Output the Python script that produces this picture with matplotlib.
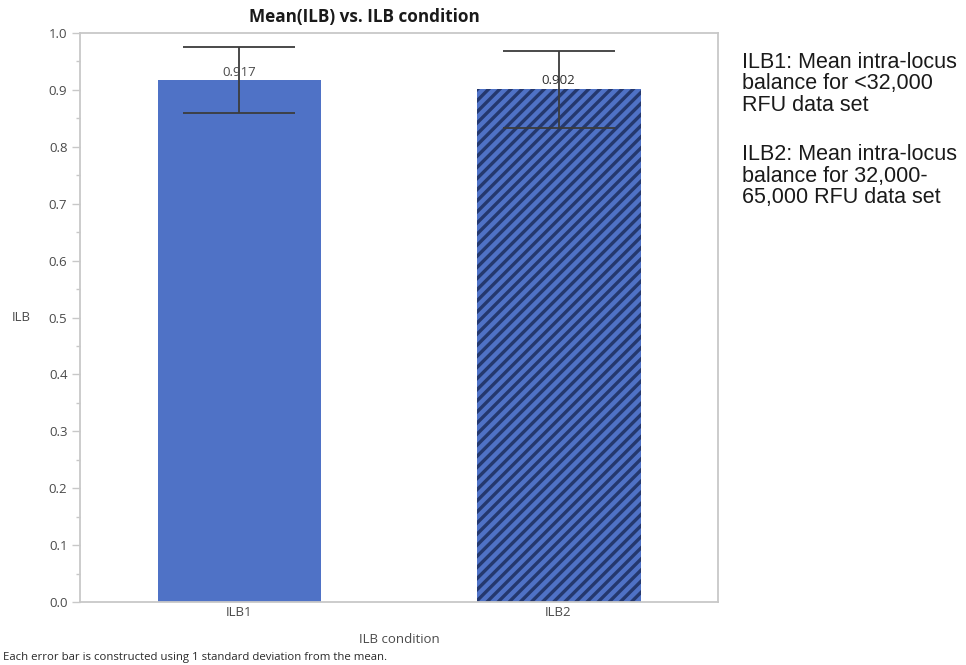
import matplotlib
matplotlib.use("Agg")
from matplotlib import pyplot as plt
from matplotlib.ticker import MultipleLocator, FormatStrFormatter

# mean intra-locus balance per condition, with 1 SD error bars
conditions = ["ILB1", "ILB2"]
means = [0.917, 0.902]
sd_upper = [0.058, 0.066]
sd_lower = [0.058, 0.069]
hatches = ["", "///"]

bar_color = "#4F72C6"
hatch_color = "#24386E"
axis_gray = "#C8C8C8"
text_gray = "#4A4A4A"

plt.rcParams["font.family"] = ["Open Sans", "DejaVu Sans"]
plt.rcParams["hatch.linewidth"] = 2.4
plt.rcParams["hatch.color"] = hatch_color

fig = plt.figure(figsize=(9.66, 6.65), dpi=100)
ax = fig.add_axes([0.0828, 0.0947, 0.6605, 0.8556])

x = list(range(len(conditions)))
bars = ax.bar(x, means, width=0.514, color=bar_color, edgecolor="none", zorder=2)
for b, h in zip(bars, hatches):
    if h:
        b.set_hatch(h)
        b.set_edgecolor(hatch_color)
        b.set_linewidth(0)

ax.errorbar(x, means, yerr=[sd_lower, sd_upper], fmt="none", ecolor="#3C3C3C",
            elinewidth=1.3, capsize=40, capthick=1.3, zorder=3)

label_colors = [text_gray, "#2E2E2E"]
for xi, m, c in zip(x, means, label_colors):
    ax.text(xi, m + 0.003, f"{m:.3f}", ha="center", va="bottom",
            fontsize=9.5, color=c, zorder=4)

ax.set_xlim(-0.5, 1.5)
ax.set_ylim(0, 1.0)
ax.set_xticks(x)
ax.set_xticklabels(conditions)
ax.yaxis.set_major_locator(MultipleLocator(0.1))
ax.yaxis.set_minor_locator(MultipleLocator(0.05))
ax.yaxis.set_major_formatter(FormatStrFormatter("%.1f"))

for s in ax.spines.values():
    s.set_color(axis_gray)
    s.set_linewidth(1.3)
ax.tick_params(axis="y", which="major", length=6, width=1, color=axis_gray,
               labelsize=9.5, labelcolor=text_gray, pad=3)
ax.tick_params(axis="y", which="minor", length=3, width=1, color=axis_gray)
ax.tick_params(axis="x", length=0, labelsize=9.5, labelcolor=text_gray, pad=3)

ax.set_ylabel("ILB", rotation=0, fontsize=9.5, color=text_gray, labelpad=20, va="center")
ax.set_xlabel("ILB condition", fontsize=9.5, color=text_gray, labelpad=10)
fig.text(0.377, 0.975, "Mean(ILB) vs. ILB condition", ha="center", va="center",
         fontsize=12.3, fontweight="bold", color="#1A1A1A")
fig.text(0.003, 0.011, "Each error bar is constructed using 1 standard deviation from the mean.",
         ha="left", va="center", fontsize=8.2, color="#2A2A2A")

notes = ["ILB1: Mean intra-locus\nbalance for <32,000\nRFU data set",
         "ILB2: Mean intra-locus\nbalance for 32,000-\n65,000 RFU data set"]
note_y = [0.922, 0.783]
for t, y in zip(notes, note_y):
    fig.text(0.768, y, t, ha="left", va="top", fontsize=15.5, color="#1A1A1A",
             family=["Liberation Sans", "DejaVu Sans"], linespacing=1.02)

fig.savefig("out.png", dpi=100)
